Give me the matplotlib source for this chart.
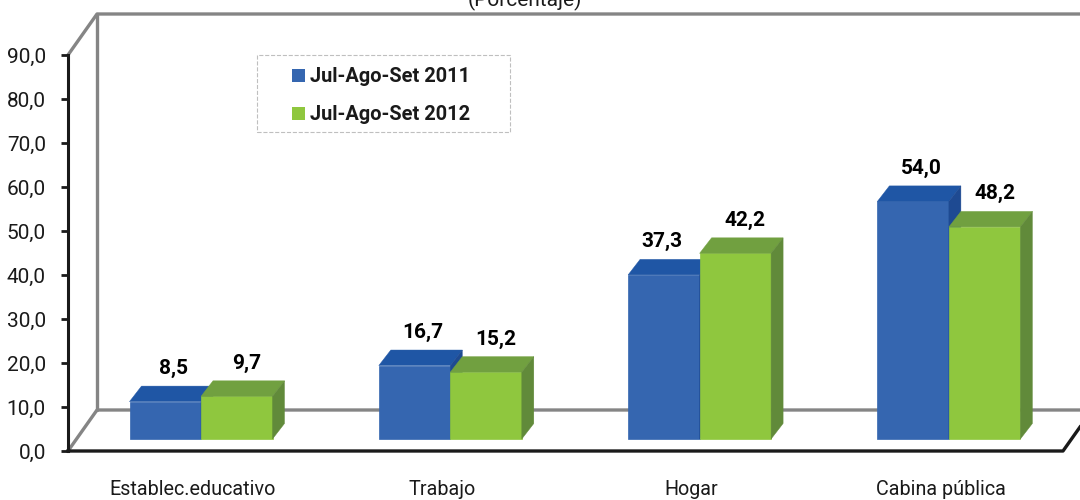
#!/usr/bin/env python3
import matplotlib
matplotlib.use('Agg')
import matplotlib.pyplot as plt
from matplotlib.patches import Polygon, Rectangle

categories = ['Establec.educativo', 'Trabajo', 'Hogar', 'Cabina pública']
serie_2011 = [8.5, 16.7, 37.3, 54.0]
serie_2012 = [9.7, 15.2, 42.2, 48.2]
labels_2011 = ['8,5', '16,7', '37,3', '54,0']
labels_2012 = ['9,7', '15,2', '42,2', '48,2']
legend_names = ['Jul-Ago-Set 2011', 'Jul-Ago-Set 2012']
y_ticks = [0, 10, 20, 30, 40, 50, 60, 70, 80, 90]

plt.rcParams['font.family'] = ['Roboto', 'Liberation Sans']

W, H = 1080, 500
# pixel layout
X0, Y0, Y90 = 68, 451, 55
STEP = 249.3
TICK0 = 193
PX_PER_UNIT = (Y0 - Y90) / 90
BLUE, GREEN = '#3566B0', '#8FC73E'

fig = plt.figure(figsize=(W / 100, H / 100), dpi=100, facecolor='white')
ax = fig.add_axes([X0 / W, 1 - Y0 / H, 1 - X0 / W, (Y0 - Y90) / H])
ax.set_ylim(0, 90)
ax.set_xlim((X0 - TICK0) / STEP, (W - TICK0) / STEP)
ax.patch.set_alpha(0)


def px(dx):
    return dx / STEP


def un(dy):
    return dy / PX_PER_UNIT


# 3d box frame
DX, DY = px(29), un(41)
xl = ax.get_xlim()[0]
xr = ax.get_xlim()[1]
gray = '#858585'
frame = dict(color=gray, lw=2.4, clip_on=False, zorder=1, solid_capstyle='round')
ax.plot([xl, xl + DX, xr], [90, 90 + DY, 90 + DY], **frame)
ax.plot([xl + DX, xl + DX], [90 + DY, DY], **frame)
ax.plot([xl, xl + DX, xr], [0, DY, DY], **frame)
xe = xl + px(995)
ax.plot([xl, xe, xr], [0, 0, un(24)], color='#1a1a1a', lw=2.4, clip_on=False, zorder=1)

# bars
BASE = un(12)
BW = px(71.5)
SHIFT = px(8)
BDX, BDY = px(12), un(15.5)


def bars_3d(xs, vals, front, top, side):
    ax.bar(xs, vals, BW, bottom=BASE, color=front, edgecolor=front, lw=0.5, zorder=3, align='edge')
    for x, v in zip(xs, vals):
        t = v + BASE
        ax.add_patch(Polygon([(x, t), (x + BDX, t + BDY), (x + BW + BDX, t + BDY), (x + BW, t)],
                             closed=True, fc=top, ec=top, lw=0.3, zorder=3))
        ax.add_patch(Polygon([(x + BW, BASE), (x + BW + BDX, BASE + BDY), (x + BW + BDX, t + BDY), (x + BW, t)],
                             closed=True, fc=side, ec=side, lw=0.3, zorder=3))


pos = list(range(len(categories)))
x_2011 = [p + SHIFT - BW for p in pos]
x_2012 = [p + SHIFT for p in pos]
bars_3d(x_2011, serie_2011, BLUE, '#1F56A5', '#1E4A92')
bars_3d(x_2012, serie_2012, GREEN, '#71A040', '#618A3A')

# value labels
for x, v, s in zip(x_2011, serie_2011, labels_2011):
    nudge = -2 if s == '37,3' else 8
    ax.text(x + BW / 2 + px(nudge), v + BASE + un(33), s, ha='center', va='center',
            fontsize=15, fontweight='bold', color='black', zorder=5)
for x, v, s in zip(x_2012, serie_2012, labels_2012):
    ax.text(x + BW / 2 + px(10), v + BASE + un(33), s, ha='center', va='center',
            fontsize=15, fontweight='bold', color='black', zorder=5)

# axes
for name in ['top', 'right', 'bottom']:
    ax.spines[name].set_visible(False)
ax.spines['left'].set_linewidth(2.2)
ax.spines['left'].set_color('#1a1a1a')
ax.set_yticks(y_ticks)
ax.set_yticklabels([f'{v:.1f}'.replace('.', ',') for v in y_ticks], fontsize=15, color='#1a1a1a')
ax.tick_params(axis='y', length=5, width=2, color='#1a1a1a', pad=11)
ax.set_xticks(pos)
ax.set_xticklabels(categories, fontsize=14.2, color='#1a1a1a')
ax.tick_params(axis='x', length=0, pad=21)

# subtitle, cut by the top edge as in the source picture
fig.text(525 / W, 1 - 0 / H, '(Porcentaje)', ha='center', va='center', fontsize=15, color='#1a1a1a')

# legend
fig.add_artist(Rectangle((257 / W, 1 - 132 / H), 253 / W, 77 / H, transform=fig.transFigure,
                         fc='white', ec='#bfbfbf', ls='--', lw=0.8))
for name, c, yc in zip(legend_names, [BLUE, GREEN], [76, 114]):
    fig.add_artist(Rectangle((292 / W, 1 - (yc + 6) / H), 13 / W, 13 / H, transform=fig.transFigure,
                             fc=c, ec=c, lw=0))
    fig.text(310 / W, 1 - yc / H, name, ha='left', va='center', fontsize=14.4, fontweight='bold', color='#1a1a1a')

fig.savefig('out.png', dpi=100)
